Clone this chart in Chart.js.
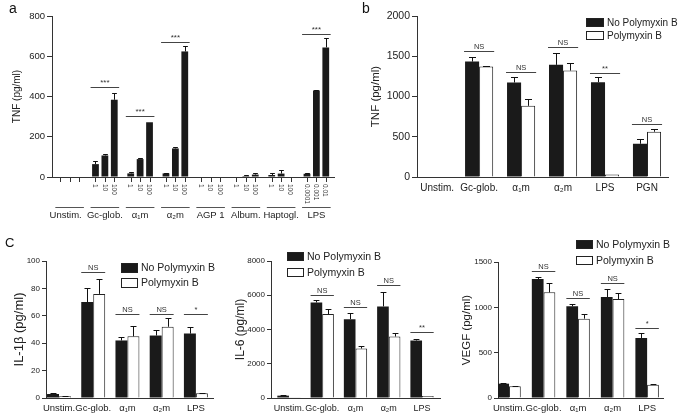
<!DOCTYPE html>
<html><head><meta charset="utf-8">
<script src="https://cdn.jsdelivr.net/npm/chart.js@4/dist/chart.umd.min.js"></script>
<style>
html,body{margin:0;padding:0;background:#fff;}
#wrap{position:relative;width:685px;height:420px;overflow:hidden;background:#fff;}
.p{position:absolute;}
canvas{display:block;}
</style></head><body>
<div id="wrap">
  <div class="p" style="left:0;top:0;width:345px;height:220px"><canvas id="ca" width="345" height="220" style="width:345px;height:220px"></canvas></div>
  <div class="p" style="left:340px;top:0;width:345px;height:220px"><canvas id="cb" width="345" height="220" style="width:345px;height:220px"></canvas></div>
  <div class="p" style="left:0;top:220px;width:230px;height:200px"><canvas id="cc1" width="230" height="200" style="width:230px;height:200px"></canvas></div>
  <div class="p" style="left:230px;top:220px;width:225px;height:200px"><canvas id="cc2" width="225" height="200" style="width:225px;height:200px"></canvas></div>
  <div class="p" style="left:455px;top:220px;width:230px;height:200px"><canvas id="cc3" width="230" height="200" style="width:230px;height:200px"></canvas></div>
</div>
<script>
// ---------- Panel a: TNF dose response ----------
const groupsA = ['Unstim.', 'Gc-glob.', 'α₁m', 'α₂m', 'AGP 1', 'Album.', 'Haptogl.', 'LPS'];
const dosesA = [['', '', ''], ['1', '10', '100'], ['1', '10', '100'], ['1', '10', '100'], ['1', '10', '100'], ['1', '10', '100'], ['1', '10', '100'], ['0.0001', '0.001', '0.01']];
const tnfDose1 = [0, 64, 18, 18, 0, 0, 10, 16];
const tnfDose2 = [0, 107, 89, 142, 0, 5, 17, 430];
const tnfDose3 = [0, 384, 272, 624, 0, 12, 0, 644];
const tnfDose1Err = [0, 15, 7, 3, 0, 0, 9, 5];
const tnfDose2Err = [0, 8, 7, 6, 0, 3, 18, 3];
const tnfDose3Err = [0, 35, 0, 26, 0, 9, 0, 47];
const sigA = ['', '***', '***', '***', '', '', '', '***'];
const sigLevelA = [null, 445, 304, 673, null, null, null, 713];
const ticksA = [0, 200, 400, 600, 800];

// ---------- Panel b: TNF +/- Polymyxin B ----------
const catsB = ['Unstim.', 'Gc-glob.', 'α₁m', 'α₂m', 'LPS', 'PGN'];
const tnfNoPmb = [0, 1434, 1174, 1393, 1178, 413];
const tnfNoPmbErr = [0, 62, 66, 152, 62, 58];
const tnfPmb = [0, 1372, 884, 1322, 30, 562];
const tnfPmbErr = [0, 12, 83, 99, 0, 33];
const sigB = ['', 'NS', 'NS', 'NS', '**', 'NS'];
const sigLevelB = [null, 1566, 1302, 1616, 1289, 657];
const ticksB = [0, 500, 1000, 1500, 2000];

// ---------- Panel c ----------
const catsC = ['Unstim.', 'Gc-glob.', 'α₁m', 'α₂m', 'LPS'];
const il1bNoPmb = [2.9, 70, 42, 45.6, 47];
const il1bNoPmbErr = [0.8, 10, 2.6, 4.4, 5];
const il1bPmb = [1.2, 76, 45, 52, 3.5];
const il1bPmbErr = [0.3, 11, 7.4, 6.3, 0.3];
const sigIl1b = ['', 'NS', 'NS', 'NS', '*'];
const sigLevelIl1b = [null, 92, 61.5, 61.5, 61.5];
const ticksIl1b = [0, 20, 40, 60, 80, 100];

const il6NoPmb = [137, 5580, 4605, 5346, 3356];
const il6NoPmbErr = [40, 157, 351, 859, 98];
const il6Pmb = [40, 4898, 2888, 3590, 117];
const il6PmbErr = [0, 292, 155, 195, 0];
const sigIl6 = ['', 'NS', 'NS', 'NS', '**'];
const sigLevelIl6 = [null, 6029, 5307, 6614, 3883];
const ticksIl6 = [0, 2000, 4000, 6000, 8000];

const vegfNoPmb = [158, 1312, 1011, 1114, 662];
const vegfNoPmbErr = [5, 23, 26, 88, 51];
const vegfPmb = [129, 1165, 875, 1092, 147];
const vegfPmbErr = [5, 103, 51, 66, 5];
const sigVegf = ['', 'NS', 'NS', 'NS', '*'];
const sigLevelVegf = [null, 1397, 1099, 1268, 772];
const ticksVegf = [0, 500, 1000, 1500];

const seriesNames = ['No Polymyxin B', 'Polymyxin B'];

// ---------- drawing helpers ----------
const FONT = '"Liberation Sans", Arial, Helvetica, sans-serif';
const BLACK = '#1a1a1a';

const annotPlugin = {
  id: 'annot',
  afterDatasetsDraw(chart, args, o) {
    const ctx = chart.ctx, ys = chart.scales.y, area = chart.chartArea;
    const metas = chart.data.datasets.map((d, i) => chart.getDatasetMeta(i));
    ctx.save();
    // error bars
    ctx.lineWidth = 1; ctx.strokeStyle = '#111';
    chart.data.datasets.forEach((ds, di) => {
      const errs = o.errs[di]; if (!errs) return;
      metas[di].data.forEach((bar, i) => {
        const e = errs[i]; if (!e) return;
        const v = ds.data[i];
        const x = Math.round(bar.x) + 0.5;
        const y0 = ys.getPixelForValue(v);
        const y1 = Math.round(ys.getPixelForValue(v + e)) + 0.5;
        const hw = bar.width * o.cap / 2;
        ctx.beginPath();
        ctx.moveTo(x, y0); ctx.lineTo(x, y1);
        ctx.moveTo(x - hw, y1); ctx.lineTo(x + hw, y1);
        ctx.stroke();
      });
    });
    // significance brackets
    ctx.strokeStyle = '#444'; ctx.fillStyle = '#333';
    ctx.font = o.sigFont + 'px ' + FONT; ctx.textAlign = 'center'; ctx.textBaseline = 'alphabetic';
    o.sig.forEach((s, i) => {
      if (!s) return;
      const first = metas[0].data[i], last = metas[metas.length - 1].data[i];
      const l = first.x - first.width / 2 - o.sigPad, r = last.x + last.width / 2 + o.sigPad;
      const yy = Math.round(ys.getPixelForValue(o.sigLevel[i])) + 0.5;
      ctx.beginPath(); ctx.moveTo(l, yy); ctx.lineTo(r, yy); ctx.stroke();
      ctx.fillText(s, (l + r) / 2, yy - 3);
    });
    // custom legend
    if (o.legend) {
      const L = o.legend;
      ctx.font = L.font + 'px ' + FONT; ctx.textAlign = 'left'; ctx.textBaseline = 'middle';
      chart.data.datasets.forEach((ds, di) => {
        const y = L.ys[di];
        ctx.fillStyle = ds.backgroundColor;
        ctx.fillRect(L.x, y, L.w, L.h);
        ctx.strokeStyle = '#222'; ctx.lineWidth = 1;
        ctx.strokeRect(L.x + 0.5, y + 0.5, L.w - 1, L.h - 1);
        ctx.fillStyle = '#222';
        ctx.fillText(ds.label, L.x + L.w + 3, y + L.h / 2 + 0.5);
      });
    }
    // grouped x axis (panel a)
    if (o.groupAxis) {
      const G = o.groupAxis;
      G.names.forEach((lab, i) => {
        ctx.strokeStyle = '#333'; ctx.lineWidth = 1;
        metas.forEach((m, di) => {
          const bar = m.data[i];
          const x = Math.round(bar.x) + 0.5;
          ctx.beginPath(); ctx.moveTo(x, area.bottom); ctx.lineTo(x, area.bottom + G.tickLen); ctx.stroke();
          const t = G.doses[i][di];
          if (t) {
            ctx.save();
            ctx.translate(bar.x, area.bottom + G.tickLen + 2);
            ctx.rotate(Math.PI / 2);
            ctx.font = G.doseFont + 'px ' + FONT; ctx.fillStyle = '#333';
            ctx.textAlign = 'left'; ctx.textBaseline = 'middle';
            ctx.fillText(t, 0, 0.5);
            ctx.restore();
          }
        });
        const first = metas[0].data[i], last = metas[metas.length - 1].data[i];
        const l = first.x - first.width / 2 - 1.5, r = last.x + last.width / 2 + 1.5;
        ctx.strokeStyle = '#555';
        ctx.beginPath(); ctx.moveTo(l, G.lineY + 0.5); ctx.lineTo(r, G.lineY + 0.5); ctx.stroke();
        ctx.font = G.labelFont + 'px ' + FONT; ctx.fillStyle = '#222';
        ctx.textAlign = 'center'; ctx.textBaseline = 'middle';
        ctx.fillText(lab, (l + r) / 2 + (G.labelShift[i] || 0), G.labelY);
      });
    }
    // panel letter
    if (o.letter) {
      ctx.font = o.letter.size + 'px ' + FONT; ctx.fillStyle = '#111';
      ctx.textAlign = 'left'; ctx.textBaseline = 'alphabetic';
      ctx.fillText(o.letter.text, o.letter.x, o.letter.y);
    }
    ctx.restore();
  }
};

function makeChart(id, cfg) {
  const idx = cfg.names.map((_, i) => i);
  const n = idx.length;
  return new Chart(document.getElementById(id), {
    type: 'bar',
    data: { labels: idx, datasets: cfg.datasets },
    options: {
      responsive: false,
      animation: false,
      devicePixelRatio: 1,
      layout: { padding: { top: cfg.area.top, right: cfg.W - cfg.area.right, left: 0, bottom: 0 } },
      datasets: { bar: { categoryPercentage: cfg.catPct, barPercentage: cfg.barPct } },
      plugins: { legend: { display: false }, tooltip: { enabled: false }, annot: cfg.annot },
      scales: {
        x: {
          type: 'linear', offset: false,
          min: -cfg.xPadL, max: n - 1 + cfg.xPadR,
          afterBuildTicks: (s) => { s.ticks = idx.map(v => ({ value: v })); },
          grid: { display: false, drawTicks: false },
          border: { display: true, color: '#333', width: 1 },
          ticks: { display: cfg.xTicks, callback: (v, i) => cfg.names[i], font: { family: FONT, size: cfg.xFont || 10 }, color: '#222', padding: cfg.xPad, maxRotation: 0, autoSkip: false },
          afterFit: (s) => { s.height = cfg.H - cfg.area.bottom; }
        },
        y: {
          min: 0, max: cfg.yTicks[cfg.yTicks.length - 1],
          afterBuildTicks: (s) => { s.ticks = cfg.yTicks.map(v => ({ value: v })); },
          ticks: { callback: (v) => String(v), font: { family: FONT, size: cfg.yFont }, color: '#222', padding: 2 },
          grid: { drawOnChartArea: false, drawTicks: true, tickLength: cfg.yTickLen || 5, color: '#333' },
          border: { display: true, color: '#333', width: 1 },
          title: { display: true, text: cfg.yTitle, font: { family: FONT, size: cfg.yTitleSize }, color: '#222', padding: { top: cfg.yTitlePad, bottom: 0 } },
          afterFit: (s) => { s.width = cfg.area.left; }
        }
      }
    },
    plugins: [annotPlugin]
  });
}

function pairSets(noPmb, pmb) {
  return [
    { label: seriesNames[0], data: noPmb, backgroundColor: BLACK, borderWidth: 0 },
    { label: seriesNames[1], data: pmb, backgroundColor: '#ffffff', borderColor: '#222', borderWidth: 1 }
  ];
}

// Panel a
makeChart('ca', {
  W: 345, H: 220, area: { left: 52, top: 16, right: 334, bottom: 177 },
  names: groupsA, xPadL: 0.5, xPadR: 0.5,
  datasets: [
    { label: 'dose 1', data: tnfDose1, backgroundColor: BLACK, borderWidth: 0 },
    { label: 'dose 2', data: tnfDose2, backgroundColor: BLACK, borderWidth: 0 },
    { label: 'dose 3', data: tnfDose3, backgroundColor: BLACK, borderWidth: 0 }
  ],
  catPct: 0.8, barPct: 0.72, xTicks: false, xPad: 0,
  yTicks: ticksA, yFont: 9.5, yTitle: 'TNF (pg/ml)', yTitleSize: 10, yTitlePad: 11,
  annot: {
    errs: [tnfDose1Err, tnfDose2Err, tnfDose3Err], cap: 0.7,
    sig: sigA, sigLevel: sigLevelA, sigFont: 8, sigPad: 1.5,
    groupAxis: { names: groupsA, doses: dosesA, tickLen: 5, doseFont: 6.5, lineY: 207, labelY: 215, labelFont: 9.5, labelShift: [-4, 0, 0, 0, 0, 0, 0, 0] },
    letter: { text: 'a', x: 9, y: 13, size: 14 }
  }
});

// Panel b
makeChart('cb', {
  W: 345, H: 220, area: { left: 77, top: 16, right: 328, bottom: 177 },
  names: catsB, xPadL: 0.48, xPadR: 0.5,
  datasets: pairSets(tnfNoPmb, tnfPmb),
  catPct: 0.67, barPct: 1.0, xTicks: true, xPad: 5, xFont: 10,
  yTicks: ticksB, yFont: 10.5, yTitle: 'TNF (pg/ml)', yTitleSize: 11.5, yTitlePad: 29,
  annot: {
    errs: [tnfNoPmbErr, tnfPmbErr], cap: 0.5,
    sig: sigB, sigLevel: sigLevelB, sigFont: 7.5, sigPad: 1,
    legend: { x: 246, ys: [18, 31], w: 18, h: 9, font: 10 },
    letter: { text: 'b', x: 22, y: 13, size: 14 }
  }
});

// Panel c1 IL-1β
makeChart('cc1', {
  W: 230, H: 200, area: { left: 46, top: 41, right: 213, bottom: 178 },
  names: catsC, xPadL: 0.38, xPadR: 0.5,
  datasets: pairSets(il1bNoPmb, il1bPmb),
  catPct: 0.70, barPct: 1.0, xTicks: true, xPad: 5, xFont: 9.5,
  yTicks: ticksIl1b, yFont: 8, yTickLen: 4, yTitle: 'IL-1β (pg/ml)', yTitleSize: 13, yTitlePad: 12,
  annot: {
    errs: [il1bNoPmbErr, il1bPmbErr], cap: 0.5,
    sig: sigIl1b, sigLevel: sigLevelIl1b, sigFont: 7.5, sigPad: 0,
    legend: { x: 121, ys: [43, 58], w: 17, h: 10, font: 10.5 },
    letter: { text: 'C', x: 5, y: 27, size: 13 }
  }
});

// Panel c2 IL-6
makeChart('cc2', {
  W: 225, H: 200, area: { left: 41, top: 41, right: 210, bottom: 178 },
  names: catsC, xPadL: 0.54, xPadR: 0.54,
  datasets: pairSets(il6NoPmb, il6Pmb),
  catPct: 0.70, barPct: 1.0, xTicks: true, xPad: 5, xFont: 9,
  yTicks: ticksIl6, yFont: 8, yTickLen: 4, yTitle: 'IL-6 (pg/ml)', yTitleSize: 12, yTitlePad: 3,
  annot: {
    errs: [il6NoPmbErr, il6PmbErr], cap: 0.5,
    sig: sigIl6, sigLevel: sigLevelIl6, sigFont: 7.5, sigPad: 0,
    legend: { x: 57, ys: [32, 48], w: 17, h: 9, font: 10.5 }
  }
});

// Panel c3 VEGF
makeChart('cc3', {
  W: 230, H: 200, area: { left: 43, top: 42, right: 208, bottom: 178 },
  names: catsC, xPadL: 0.32, xPadR: 0.46,
  datasets: pairSets(vegfNoPmb, vegfPmb),
  catPct: 0.68, barPct: 1.0, xTicks: true, xPad: 5, xFont: 9.5,
  yTicks: ticksVegf, yFont: 8, yTickLen: 4, yTitle: 'VEGF (pg/ml)', yTitleSize: 11.5, yTitlePad: 5,
  annot: {
    errs: [vegfNoPmbErr, vegfPmbErr], cap: 0.5,
    sig: sigVegf, sigLevel: sigLevelVegf, sigFont: 7.5, sigPad: 0,
    legend: { x: 121, ys: [20, 36], w: 17, h: 9, font: 10.5 }
  }
});
</script>
</body></html>
